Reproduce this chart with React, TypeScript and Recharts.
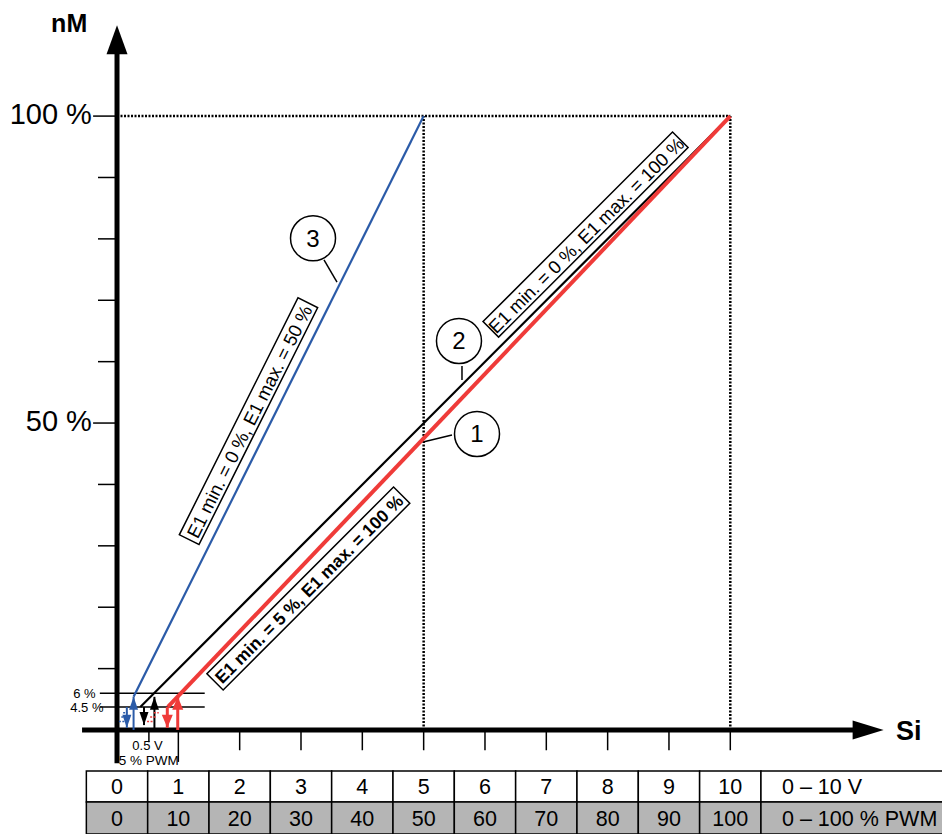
import React from 'react';
import {
  ComposedChart,
  Line,
  XAxis,
  YAxis,
  ReferenceLine,
  ReferenceArea,
  ReferenceDot,
} from 'recharts';

// ---------- data ----------
const voltLabels = ['0', '1', '2', '3', '4', '5', '6', '7', '8', '9', '10'];
const pwmLabels = ['0', '10', '20', '30', '40', '50', '60', '70', '80', '90', '100'];
const tableCols = [0, 1, 2, 3, 4, 5, 6, 7, 8, 9, 10];
const rowTitles = ['0 – 10 V', '0 – 100 % PWM'];

// curve 1: E1 min. = 5 %, E1 max. = 100 % (red)
const curve1 = [
  { x: 0.83, y: 3.75 },
  { x: 10, y: 100 },
];
// curve 2: E1 min. = 0 %, E1 max. = 100 % (black)
const curve2 = [
  { x: 0.38, y: 3.75 },
  { x: 10, y: 100 },
];
// curve 3: E1 min. = 0 %, E1 max. = 50 % (blue)
const curve3 = [
  { x: 0.27, y: 5.4 },
  { x: 5, y: 100 },
];

const yMinorTicks = [10, 20, 30, 40, 60, 70, 80, 90];
const yMajorTicks = [
  { v: 100, label: '100 %' },
  { v: 50, label: '50 %' },
];
const xTicks = [1, 2, 3, 4, 5, 6, 7, 8, 9, 10];
const guideLevels = [
  { v: 6, label: '6 %' },
  { v: 3.75, label: '4.5 %' },
];

// start/stop arrows near origin
const markers = [
  { x: 0.16, from: 3.75, to: 0.35, color: '#2b5ba8', w: 2 },
  { x: 0.27, from: 0, to: 5.4, color: '#2b5ba8', w: 2 },
  { x: 0.44, from: 3.75, to: 0.8, color: '#000000', w: 2 },
  { x: 0.61, from: 0, to: 5.4, color: '#000000', w: 2 },
  { x: 0.82, from: 3.75, to: 0.35, color: '#ef3b39', w: 3 },
  { x: 0.99, from: 0, to: 5.4, color: '#ef3b39', w: 3 },
];
const hatches = [
  { x1: 0.03, x2: 0.12, y: 1.4, color: '#2b5ba8' },
  { x1: 0.07, x2: 0.15, y: 2.1, color: '#2b5ba8' },
  { x1: 0.1, x2: 0.17, y: 2.8, color: '#2b5ba8' },
  { x1: 0.49, x2: 0.58, y: 1.4, color: '#ef3b39' },
  { x1: 0.54, x2: 0.63, y: 2.1, color: '#ef3b39' },
  { x1: 0.6, x2: 0.68, y: 2.8, color: '#ef3b39' },
];

const curveLabels = [
  { x: 2.144, y: 50.3, angle: -63.4, w: 265, h: 22, text: 'E1 min. = 0 %, E1 max. = 50 %', bold: false },
  { x: 7.64, y: 80.7, angle: -45, w: 268, h: 22, text: 'E1 min. = 0 %, E1 max. = 100 %', bold: false },
  { x: 3.12, y: 23.05, angle: -45, w: 264, h: 23, text: 'E1 min. = 5 %, E1 max. = 100 %', bold: true },
];

const callouts = [
  { label: '3', x: 3.196, y: 80.1, lead: [{ x: 3.375, y: 76.56 }, { x: 3.587, y: 72.97 }] },
  { label: '2', x: 5.576, y: 63.37, lead: [{ x: 5.625, y: 59.29 }, { x: 5.625, y: 57.01 }] },
  { label: '1', x: 5.87, y: 48.22, lead: [{ x: 5.462, y: 48.05 }, { x: 4.99, y: 46.91 }] },
];

// ---------- layout ----------
const W = 942;
const H = 834;
const X_DOMAIN: [number, number] = [-1.908, 13.452];
const Y_DOMAIN: [number, number] = [-16.94, 118.91];
const FONT = "'Liberation Sans', Arial, Helvetica, sans-serif";
const ROW1 = [-6.68, -11.73];
const ROW2 = [-11.73, -16.94];
const TABLE_FONT = 21.5;

const tri = (cx: number, cy: number, dir: string, len: number, half: number, color: string) => {
  let pts = '';
  if (dir === 'up') pts = `${cx},${cy} ${cx - half},${cy + len} ${cx + half},${cy + len}`;
  else if (dir === 'down') pts = `${cx},${cy} ${cx - half},${cy - len} ${cx + half},${cy - len}`;
  else pts = `${cx},${cy} ${cx - len},${cy - half} ${cx - len},${cy + half}`;
  return <polygon points={pts} fill={color} stroke="none" />;
};

const seg = (key: string, x1: number, y1: number, x2: number, y2: number, stroke: string, w: number, dash?: string) => (
  <ReferenceLine
    key={key}
    segment={[{ x: x1, y: y1 }, { x: x2, y: y2 }]}
    stroke={stroke}
    strokeWidth={w}
    strokeDasharray={dash}
    ifOverflow="visible"
  />
);

const at = (key: string, x: number, y: number, render: (cx: number, cy: number) => React.ReactElement) => (
  <ReferenceDot key={key} x={x} y={y} r={1} ifOverflow="visible" shape={(p: any) => render(p.cx, p.cy)} />
);

const txt = (
  key: string,
  x: number,
  y: number,
  value: string,
  size: number,
  anchor: 'start' | 'middle' | 'end',
  bold = false,
) =>
  at(key, x, y, (cx, cy) => (
    <text x={cx} y={cy} textAnchor={anchor} fontSize={size} fontWeight={bold ? 'bold' : 'normal'} fontFamily={FONT} fill="#000">
      {value}
    </text>
  ));

const cellLabel = (value: string, position: string, offset = 5) => ({
  value,
  position,
  offset,
  fontSize: TABLE_FONT,
  fill: '#000',
  fontFamily: FONT,
  style: { fontSize: TABLE_FONT, fontFamily: FONT },
});

export default function App() {
  return (
    <div style={{ position: 'absolute', left: 0, top: 0, width: W, height: H, background: '#fff' }}>
      <ComposedChart width={W} height={H} margin={{ top: 0, right: 0, bottom: 0, left: 0 }}>
        <XAxis type="number" dataKey="x" domain={X_DOMAIN} allowDataOverflow hide />
        <YAxis type="number" dataKey="y" domain={Y_DOMAIN} allowDataOverflow hide />

        {/* table */}
        {tableCols.map((c, i) => (
          <ReferenceArea
            key={`v${c}`}
            x1={c - 0.5}
            x2={c + 0.5}
            y1={ROW1[1]}
            y2={ROW1[0]}
            fill="#ffffff"
            fillOpacity={1}
            stroke="#000"
            strokeWidth={1.5}
            ifOverflow="visible"
            label={cellLabel(voltLabels[i], 'center') as any}
          />
        ))}
        {tableCols.map((c, i) => (
          <ReferenceArea
            key={`p${c}`}
            x1={c - 0.5}
            x2={c + 0.5}
            y1={ROW2[1]}
            y2={ROW2[0]}
            fill="#b5b5b5"
            fillOpacity={1}
            stroke="#000"
            strokeWidth={1.5}
            ifOverflow="visible"
            label={cellLabel(pwmLabels[i], 'center') as any}
          />
        ))}
        <ReferenceArea
          x1={10.5}
          x2={X_DOMAIN[1] + 0.05}
          y1={ROW1[1]}
          y2={ROW1[0]}
          fill="#ffffff"
          fillOpacity={1}
          stroke="#000"
          strokeWidth={1.5}
          ifOverflow="visible"
          label={cellLabel(rowTitles[0], 'insideLeft', 21) as any}
        />
        <ReferenceArea
          x1={10.5}
          x2={X_DOMAIN[1] + 0.05}
          y1={ROW2[1]}
          y2={ROW2[0]}
          fill="#b5b5b5"
          fillOpacity={1}
          stroke="#000"
          strokeWidth={1.5}
          ifOverflow="visible"
          label={cellLabel(rowTitles[1], 'insideLeft', 21) as any}
        />

        {/* dotted guides */}
        {seg('d100', 0, 100, 10, 100, '#000', 2.5, '2 1.5')}
        {seg('d5', 5, 0, 5, 100, '#000', 2.5, '2 1.5')}
        {seg('d10', 10, 0, 10, 100, '#000', 2.5, '2 1.5')}

        {/* y ticks */}
        {yMinorTicks.map((v) => seg(`yt${v}`, -0.31, v, 0, v, '#000', 1.5))}
        {yMajorTicks.map((t) => seg(`ym${t.v}`, -0.39, t.v, 0, t.v, '#000', 1.5))}
        {yMajorTicks.map((t) => txt(`yl${t.v}`, -0.41, t.v - 1.3, t.label, 29, 'end'))}
        {guideLevels.map((g) => seg(`g${g.v}`, -0.28, g.v, 1.43, g.v, '#000', 1.5))}
        {guideLevels.map((g, i) => txt(`gl${g.v}`, i === 0 ? -0.35 : -0.22, g.v - 0.75, g.label, 13, 'end'))}

        {/* x ticks */}
        {xTicks.map((v) => seg(`xt${v}`, v, 0, v, v === 1 ? -5.2 : -3.3, '#000', 1.5))}
        {seg('xt05', 0.52, 0, 0.52, -2.0, '#000', 1.5)}
        {txt('l05', 0.25, -3.26, '0.5 V', 13, 'start')}
        {txt('l5pwm', 0.03, -5.75, '5 % PWM', 13.5, 'start')}

        {/* axes */}
        {seg('yaxis', 0, -5.4, 0, 110.5, '#000', 5)}
        {seg('xaxis', -0.57, 0, 12.05, 0, '#000', 5)}
        {at('yarrow', 0, 114.8, (cx, cy) => tri(cx, cy, 'up', 29, 10.5, '#000'))}
        {at('xarrow', 12.5, 0, (cx, cy) => tri(cx, cy, 'right', 31, 9.5, '#000'))}
        {txt('nM', -0.78, 113.7, 'nM', 25, 'middle', true)}
        {txt('Si', 12.7, -1.63, 'Si', 27, 'start', true)}

        {/* arrows near origin */}
        {markers.map((m, i) => seg(`ms${i}`, m.x, m.from, m.x, m.to, m.color, m.w))}
        {markers.map((m, i) =>
          at(`mh${i}`, m.x, m.to, (cx, cy) => tri(cx, cy, m.to > m.from ? 'up' : 'down', 13, m.w === 3 ? 5.5 : 4.5, m.color)),
        )}
        {hatches.map((h, i) => seg(`h${i}`, h.x1, h.y, h.x2, h.y, h.color, 1.5, '2 1.5'))}

        {/* curve label boxes */}
        {curveLabels.map((c, i) =>
          at(`cl${i}`, c.x, c.y, (cx, cy) => (
            <g transform={`translate(${cx},${cy}) rotate(${c.angle})`}>
              <rect x={-c.w / 2} y={-c.h / 2} width={c.w} height={c.h} fill="#fff" stroke="#000" strokeWidth={1.5} />
              <text
                x={0}
                y={1}
                textAnchor="middle"
                dominantBaseline="central"
                fontSize={c.bold ? 17.5 : 18.5}
                fontWeight={c.bold ? 'bold' : 'normal'}
                fontFamily={FONT}
                fill="#000"
              >
                {c.text}
              </text>
            </g>
          )),
        )}

        {/* callout leaders */}
        {callouts.map((c) => seg(`lead${c.label}`, c.lead[0].x, c.lead[0].y, c.lead[1].x, c.lead[1].y, '#000', 1.5))}

        {/* curves */}
        <Line data={curve2} dataKey="y" type="linear" stroke="#000000" strokeWidth={2.2} dot={false} activeDot={false} isAnimationActive={false} />
        <Line data={curve1} dataKey="y" type="linear" stroke="#ef3b39" strokeWidth={4} dot={false} activeDot={false} isAnimationActive={false} />
        <Line data={curve3} dataKey="y" type="linear" stroke="#2b5ba8" strokeWidth={2.2} dot={false} activeDot={false} isAnimationActive={false} />

        {/* callout circles */}
        {callouts.map((c) =>
          at(`co${c.label}`, c.x, c.y, (cx, cy) => (
            <g>
              <circle cx={cx} cy={cy} r={22.5} fill="#fff" stroke="#000" strokeWidth={1.5} />
              <text x={cx} y={cy + 8.5} textAnchor="middle" fontSize={24} fontFamily={FONT} fill="#000">
                {c.label}
              </text>
            </g>
          )),
        )}
      </ComposedChart>
    </div>
  );
}
